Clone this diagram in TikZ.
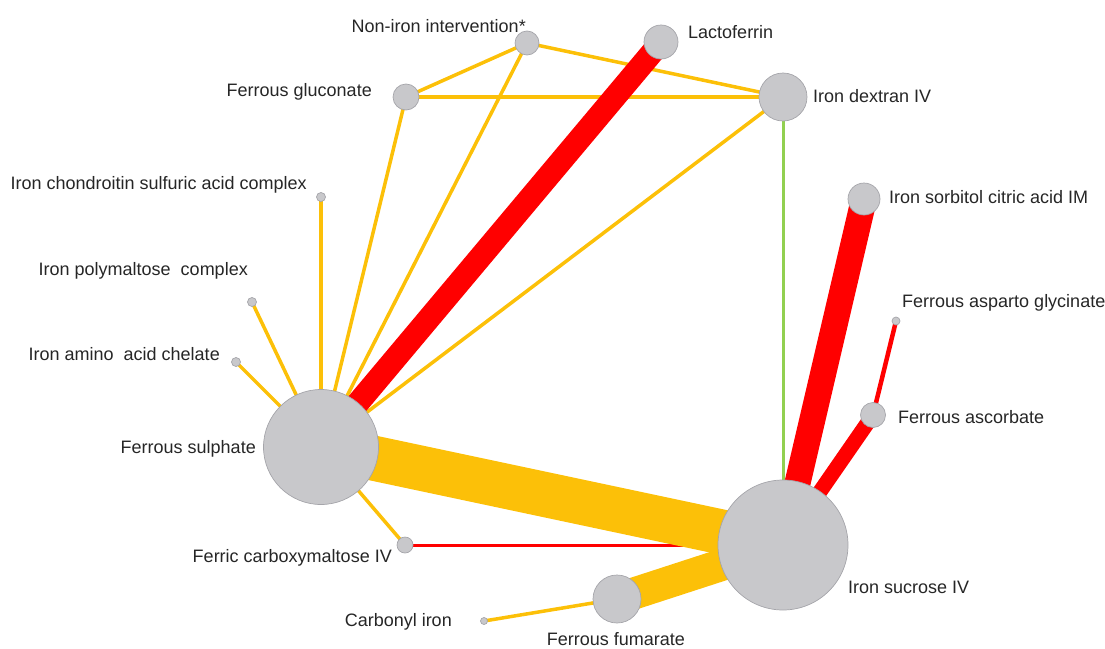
\documentclass[tikz,border=0pt]{standalone}
\usepackage{fontspec}
\setmainfont{Liberation Sans}
\pgfdeclarelayer{links}
\pgfsetlayers{links,main}
\definecolor{nodegray}{RGB}{200,200,203}
\definecolor{nodeedge}{RGB}{165,165,170}
\definecolor{gold}{RGB}{252,192,8}
\definecolor{linkred}{RGB}{255,0,0}
\definecolor{linkgreen}{RGB}{146,208,80}
\definecolor{labeltext}{RGB}{38,38,38}
\begin{document}
\begin{tikzpicture}[x=1pt,y=-1pt,
  drug/.style={circle, fill=nodegray, draw=nodeedge, line width=0.7pt, inner sep=0pt},
  lbl/.style={font=\fontsize{18}{20}\selectfont, text=labeltext, inner sep=0pt},
  goldlink/.style={draw=gold, line width=#1},
  redlink/.style={draw=linkred, line width=#1},
  greenlink/.style={draw=linkgreen, line width=#1}]
\useasboundingbox (0,0) rectangle (1105,648);

% treatment nodes (size ~ number of participants)
\node[drug, minimum size=24pt]  (noniron)  at (527,43)  {};
\node[drug, minimum size=34pt]  (lacto)    at (661,42)  {};
\node[drug, minimum size=26pt]  (glucon)   at (406,97)  {};
\node[drug, minimum size=48pt]  (dextran)  at (783,97)  {};
\node[drug, minimum size=9pt]   (chondro)  at (321,197) {};
\node[drug, minimum size=9pt]   (polymal)  at (252,302) {};
\node[drug, minimum size=9pt]   (amino)    at (236,362) {};
\node[drug, minimum size=115pt] (sulph)    at (321,447) {};
\node[drug, minimum size=16pt]  (carboxy)  at (405,545) {};
\node[drug, minimum size=7pt]   (carbonyl) at (484,621) {};
\node[drug, minimum size=48pt]  (fumar)    at (617,599) {};
\node[drug, minimum size=130pt] (sucrose)  at (783,545) {};
\node[drug, minimum size=32pt]  (sorbit)   at (864,199) {};
\node[drug, minimum size=8pt]   (asparto)  at (896,321) {};
\node[drug, minimum size=25pt]  (ascorb)   at (873,415) {};

% labels
\node[lbl, anchor=base east] (noniron-l)  at (526,32)  {Non-iron intervention*};
\node[lbl, anchor=base west] (lacto-l)    at (688,38)  {Lactoferrin};
\node[lbl, anchor=base east] (glucon-l)   at (372,96)  {Ferrous gluconate};
\node[lbl, anchor=base west] (dextran-l)  at (813,102) {Iron dextran IV};
\node[lbl, anchor=base east] (chondro-l)  at (307,189) {Iron chondroitin sulfuric acid complex};
\node[lbl, anchor=base east] (polymal-l)  at (248,275) {Iron polymaltose~ complex};
\node[lbl, anchor=base east] (amino-l)    at (220,360) {Iron amino~ acid chelate};
\node[lbl, anchor=base east] (sulph-l)    at (256,453) {Ferrous sulphate};
\node[lbl, anchor=base east] (carboxy-l)  at (392,562) {Ferric carboxymaltose IV};
\node[lbl, anchor=base east] (carbonyl-l) at (452,626) {Carbonyl iron};
\node[lbl, anchor=base]      (fumar-l)    at (616,645) {Ferrous fumarate};
\node[lbl, anchor=base west] (sucrose-l)  at (848,593) {Iron sucrose IV};
\node[lbl, anchor=base west] (sorbit-l)   at (889,203) {Iron sorbitol citric acid IM};
\node[lbl, anchor=base west] (asparto-l)  at (902,307) {Ferrous asparto glycinate};
\node[lbl, anchor=base west] (ascorb-l)   at (898,423) {Ferrous ascorbate};

% comparisons (width ~ number of trials), drawn beneath the nodes
\begin{pgfonlayer}{links}
  \draw[goldlink=3.5pt] (noniron.center) -- (glucon.center);
  \draw[goldlink=3.5pt] (noniron.center) -- (dextran.center);
  \draw[goldlink=3.5pt] (noniron.center) -- (sulph.center);
  \draw[goldlink=3.5pt] (glucon.center) -- (dextran.center);
  \draw[goldlink=3.5pt] (glucon.center) -- (sulph.center);
  \draw[goldlink=3.5pt] (dextran.center) -- (sulph.center);
  \draw[goldlink=3.5pt] (chondro.center) -- (sulph.center);
  \draw[goldlink=3.5pt] (polymal.center) -- (sulph.center);
  \draw[goldlink=3.5pt] (amino.center) -- (sulph.center);
  \draw[goldlink=3.5pt] (carboxy.center) -- (sulph.center);
  \draw[goldlink=3.5pt] (carbonyl.center) -- (fumar.center);
  \draw[greenlink=3pt] (dextran.center) -- (sucrose.center);
  \draw[redlink=3pt] (carboxy.center) -- (sucrose.center);
  \draw[redlink=4.5pt] (asparto.center) -- (ascorb.center);
  \draw[redlink=15pt] (ascorb.center) -- (sucrose.center);
  \draw[redlink=26pt] (sorbit.center) -- (sucrose.center);
  \draw[redlink=23pt] (lacto.center) -- (sulph.center);
  \draw[goldlink=45pt] (sulph.center) -- (sucrose.center);
  \draw[goldlink=32pt] (fumar.center) -- (sucrose.center);
\end{pgfonlayer}
\end{tikzpicture}
\end{document}
